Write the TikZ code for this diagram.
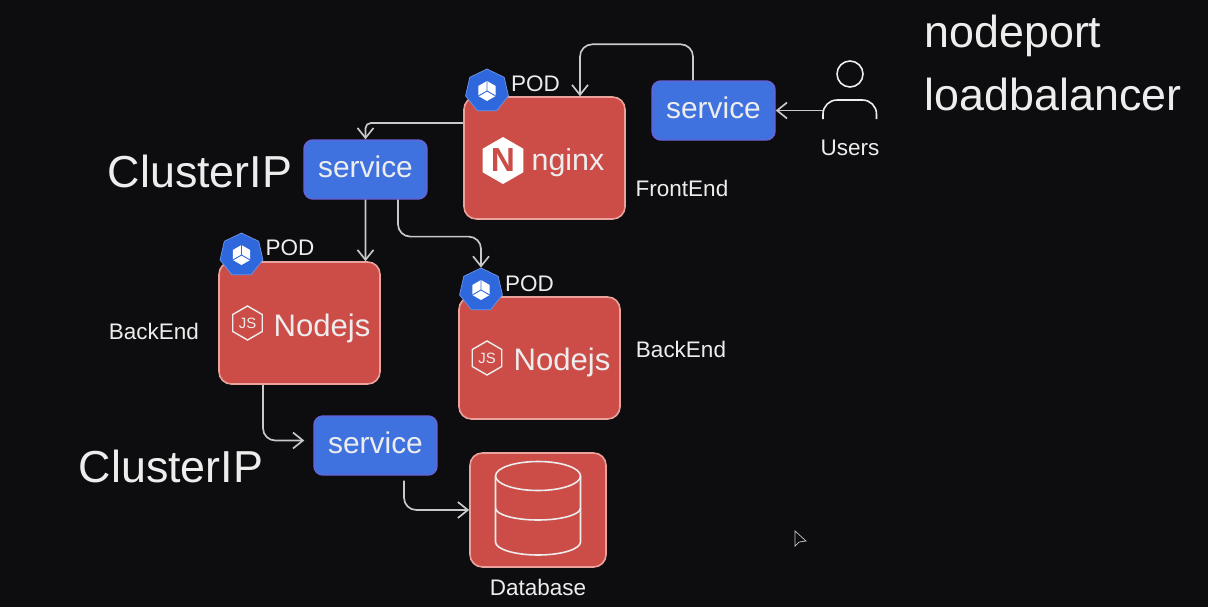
\documentclass[tikz,border=0pt]{standalone}
\usepackage{fontspec}
\setmainfont{Liberation Sans}
\usepackage{tikz}
\usetikzlibrary{shapes.geometric, arrows.meta, positioning}
\definecolor{bgblack}{HTML}{0D0D0F}
\definecolor{podred}{HTML}{CC4D47}
\definecolor{podedge}{HTML}{E9A29C}
\definecolor{svcblue}{HTML}{3F72DE}
\definecolor{svcedge}{HTML}{6A62D8}
\definecolor{badgeblue}{HTML}{2F68DC}
\definecolor{wirewhite}{HTML}{C9C9C9}
\definecolor{textwhite}{HTML}{EDEDED}

\begin{document}
\begin{tikzpicture}[
    service/.style={rectangle, draw=svcedge, line width=0.8pt, fill=svcblue, rounded corners=5pt, minimum width=2.46cm, minimum height=1.18cm, text depth=0.12cm, text=textwhite, font=\fontsize{17}{19}\selectfont},
    podbox/.style={rectangle, draw=podedge, line width=0.9pt, fill=podred, rounded corners=7pt, minimum width=3.22cm, minimum height=2.44cm},
    badge/.style={regular polygon, regular polygon sides=7, draw=badgeblue!70!white, line width=0.4pt, fill=badgeblue, minimum size=0.88cm, inner sep=0pt},
    cube/.style={regular polygon, regular polygon sides=6, shape border rotate=30, fill=white, minimum size=0.4cm, inner sep=0pt},
    nghex/.style={regular polygon, regular polygon sides=6, shape border rotate=30, fill=white, minimum size=0.94cm, inner sep=0pt},
    jshex/.style={regular polygon, regular polygon sides=6, shape border rotate=30, draw=textwhite, line width=0.8pt, minimum size=0.68cm, inner sep=0pt},
    arrow/.style={-{Straight Barb[length=2mm,width=3.2mm]}, draw=wirewhite, line width=0.95pt, rounded corners=7pt},
    bigtext/.style={text=textwhite, font=\fontsize{25.5}{28}\selectfont},
    logotext/.style={text=textwhite, font=\fontsize{17.7}{20}\selectfont},
    label/.style={text=textwhite, font=\fontsize{12.8}{14}\selectfont, inner sep=0pt},
    dbline/.style={draw=textwhite, line width=0.9pt}
]
\fill[bgblack] (0,0) rectangle (24.16,12.14);
\useasboundingbox (0,0) rectangle (24.16,12.14);

% Pods
\node[podbox] (nginx) at (10.89,8.98) {};
\node[podbox] (nodeA) at (5.99,5.68) {};
\node[podbox] (nodeB) at (10.79,4.98) {};
\node[podbox, minimum width=2.72cm, minimum height=2.28cm] (db) at (10.76,1.94) {};

% Services
\node[service] (svcFront) at (14.27,9.93) {service};
\node[service] (svcBack) at (7.31,8.75) {service};
\node[service] (svcDb) at (7.51,3.23) {service};

% Pod badges
\node[badge] (podN) at (9.74,10.32) {};
\node[badge] (podA) at (4.83,7.04) {};
\node[badge] (podB) at (9.62,6.34) {};
\node[cube] (cubeN) at (podN) {};
\node[cube] (cubeA) at (podA) {};
\node[cube] (cubeB) at (podB) {};
\draw[badgeblue, line width=0.5pt] (cubeN.corner 1) -- (cubeN.center) -- (cubeN.corner 5) (cubeN.center) -- (cubeN.corner 3);
\draw[badgeblue, line width=0.5pt] (cubeA.corner 1) -- (cubeA.center) -- (cubeA.corner 5) (cubeA.center) -- (cubeA.corner 3);
\draw[badgeblue, line width=0.5pt] (cubeB.corner 1) -- (cubeB.center) -- (cubeB.corner 5) (cubeB.center) -- (cubeB.corner 3);
\node[label, right=0.06cm of podN, yshift=0.14cm] (podNtext) {POD};
\node[label, right=0.06cm of podA, yshift=0.14cm] (podAtext) {POD};
\node[label, right=0.06cm of podB, yshift=0.12cm] (podBtext) {POD};

% Logos
\node[nghex] (nghex) at (10.06,8.93) {};
\node[text=podred, font=\fontsize{19}{20}\bfseries\selectfont] (ngN) at (nghex) {N};
\node[logotext, font=\fontsize{17.3}{20}\selectfont] (ngtext) at (11.36,8.88) {nginx};
\node[jshex] (jsA) at (4.95,5.68) {};
\node[text=textwhite, font=\fontsize{8.5}{9}\selectfont] (jsAtext) at (jsA) {JS};
\node[logotext] (nodeAtext) at (6.44,5.58) {Nodejs};
\node[jshex] (jsB) at (9.74,4.98) {};
\node[text=textwhite, font=\fontsize{8.5}{9}\selectfont] (jsBtext) at (jsB) {JS};
\node[logotext] (nodeBtext) at (11.24,4.9) {Nodejs};

% Database drum
\begin{scope}[shift={(db.center)}]
\draw[dbline] (0,0.68) ellipse (0.85cm and 0.29cm);
\draw[dbline] (-0.85,0.68) -- (-0.85,-0.64) arc[start angle=180, end angle=360, x radius=0.85, y radius=0.26] -- (0.85,0.68);
\draw[dbline] (-0.85,0.04) arc[start angle=180, end angle=360, x radius=0.85, y radius=0.24];
\end{scope}
\node[label, below=0.22cm of db] (dbtext) {Database};

% Users
\node[circle, draw=textwhite, line width=0.9pt, minimum size=0.52cm, inner sep=0pt] (head) at (17,10.66) {};
\coordinate (bodyL) at (16.46,9.76);
\coordinate (bodyR) at (17.53,9.76);
\draw[textwhite, line width=0.9pt, rounded corners=8pt] (bodyL) -- ++(0,0.38) -- ++(1.07,0) -- (bodyR);
\coordinate (userArm) at (16.46,9.93);
\node[label] (users) at (17,9.18) {Users};

% Connectors
\draw[arrow] ([xshift=-0.41cm]svcFront.north) -- ++(0,0.72) -| ([xshift=0.71cm]nginx.north);
\draw[arrow] (userArm) -- (svcFront.east);
\draw[arrow, rounded corners=3pt] ([yshift=0.7cm]nginx.west) -| (svcBack.north);
\draw[arrow] (svcBack.south) -- ([xshift=1.32cm]nodeA.north);
\draw[arrow] ([xshift=0.65cm]svcBack.south) |- ([yshift=0.62cm]podB.north) -- (podB.north);
\draw[arrow] ([xshift=-0.73cm]nodeA.south) |- ([xshift=-0.18cm,yshift=0.1cm]svcDb.west);
\draw[arrow] ([xshift=0.57cm,yshift=-0.1cm]svcDb.south) |- (db.west);

% Side labels
\node[bigtext] (clusterA) at (4.0,8.72) {ClusterIP};
\node[bigtext] (clusterB) at (3.42,2.82) {ClusterIP};
\node[bigtext] (nodeport) at (20.26,11.42) {nodeport};
\node[bigtext] (lbalancer) at (21.06,10.26) {loadbalancer};
\node[label] (frontend) at (13.64,8.38) {FrontEnd};
\node[label] (backA) at (3.08,5.52) {BackEnd};
\node[label] (backB) at (13.62,5.16) {BackEnd};

% Mouse pointer
\draw[wirewhite, line width=0.4pt, fill=bgblack] (15.9,1.52) -- (15.9,1.22) -- (15.98,1.3) -- (16.12,1.32) -- cycle;
\end{tikzpicture}
\end{document}
